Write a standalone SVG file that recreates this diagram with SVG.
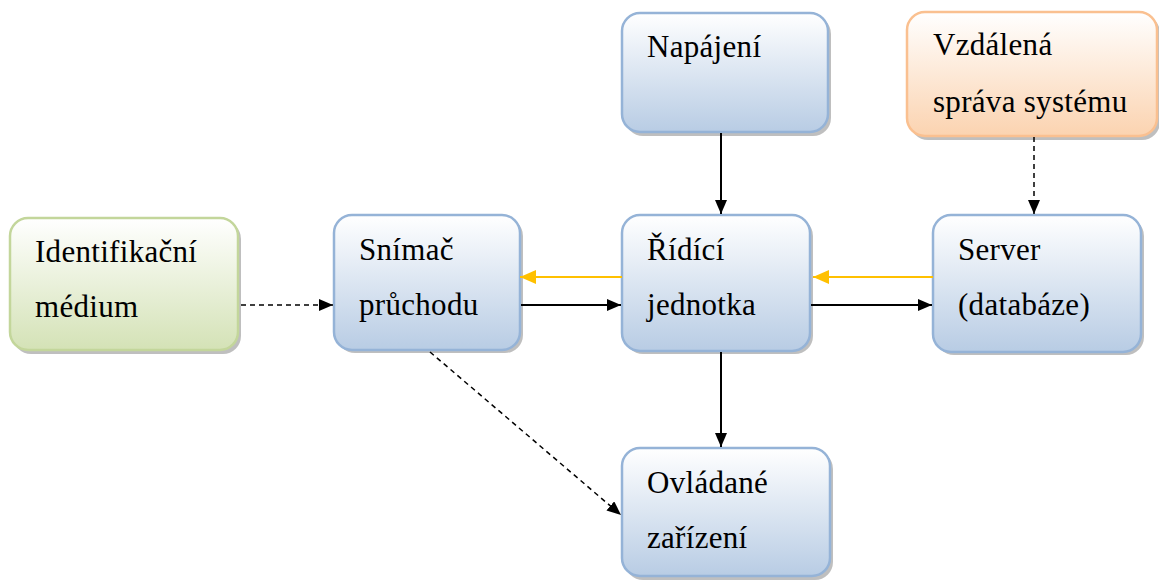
<svg xmlns="http://www.w3.org/2000/svg" width="1159" height="581" viewBox="0 0 1159 581">
<defs>
<linearGradient id="gBlue" x1="0" y1="0" x2="0" y2="1"><stop offset="0" stop-color="#ffffff"/><stop offset="1" stop-color="#b8cce4"/></linearGradient>
<linearGradient id="gGreen" x1="0" y1="0" x2="0" y2="1"><stop offset="0" stop-color="#ffffff"/><stop offset="1" stop-color="#d4e2b6"/></linearGradient>
<linearGradient id="gOrange" x1="0" y1="0" x2="0" y2="1"><stop offset="0" stop-color="#ffffff"/><stop offset="1" stop-color="#fbd3b0"/></linearGradient>
<marker id="ab2" viewBox="0 0 14 12" refX="14" refY="6" markerWidth="14" markerHeight="12" markerUnits="userSpaceOnUse" orient="auto"><path d="M0,0 L14,6 L0,12 z" fill="#000"/></marker>
<marker id="ao" viewBox="0 0 16 14" refX="16" refY="7" markerWidth="16" markerHeight="14" markerUnits="userSpaceOnUse" orient="auto"><path d="M0,0 L16,7 L0,14 z" fill="#ffc000"/></marker>
</defs>
<style>
.sh{fill:#8a8a8a;opacity:0.55}
.nb{fill:url(#gBlue);stroke:#95b3d7;stroke-width:2.5}
.ng{fill:url(#gGreen);stroke:#c3d69b;stroke-width:2.5}
.no{fill:url(#gOrange);stroke:#fac090;stroke-width:2.5}
.c{stroke:#000;stroke-width:2;fill:none}
.d{stroke:#000;stroke-width:1.5;fill:none;stroke-dasharray:5,4}
.o{stroke:#ffc000;stroke-width:2;fill:none}
</style>
<g font-family="Liberation Serif, serif" font-size="31" fill="#000" letter-spacing="0.3">
<g id="n-identifikacni">
<rect class="sh" x="13" y="221" width="228" height="133" rx="18"/>
<rect class="ng" x="10" y="218" width="228" height="132" rx="18"/>
<text x="35" y="262">Identifikační</text>
<text x="35" y="317">médium</text>
</g>
<g id="n-snimac">
<rect class="sh" x="337" y="218" width="186" height="135" rx="18"/>
<rect class="nb" x="334" y="215" width="186" height="135" rx="18"/>
<text x="359" y="260">Snímač</text>
<text x="359" y="315">průchodu</text>
</g>
<g id="n-ridici">
<rect class="sh" x="625" y="218" width="188" height="136" rx="18"/>
<rect class="nb" x="622" y="215" width="188" height="136" rx="18"/>
<text x="647" y="260">Řídící</text>
<text x="647" y="315">jednotka</text>
</g>
<g id="n-napajeni">
<rect class="sh" x="625" y="16" width="206" height="120" rx="18"/>
<rect class="nb" x="622" y="13" width="206" height="119" rx="18"/>
<text x="647" y="57">Napájení</text>
</g>
<g id="n-vzdalena">
<rect class="sh" x="910" y="15" width="250" height="125" rx="18"/>
<rect class="no" x="907" y="12" width="250" height="124" rx="18"/>
<text x="933" y="55">Vzdálená</text>
<text x="933" y="112">správa systému</text>
</g>
<g id="n-server">
<rect class="sh" x="936" y="218" width="208" height="137" rx="18"/>
<rect class="nb" x="933" y="215" width="208" height="137" rx="18"/>
<text x="958" y="260">Server</text>
<text x="958" y="315">(databáze)</text>
</g>
<g id="n-ovladane">
<rect class="sh" x="625" y="451" width="208" height="129" rx="18"/>
<rect class="nb" x="622" y="448" width="208" height="128" rx="18"/>
<text x="647" y="493">Ovládané</text>
<text x="647" y="548">zařízení</text>
</g>
</g>
<g id="connectors">
<line class="d" x1="241" y1="305" x2="333" y2="305" marker-end="url(#ab2)"/>
<line class="c" x1="521" y1="305" x2="621" y2="305" marker-end="url(#ab2)"/>
<line class="o" x1="622" y1="277" x2="520" y2="277" marker-end="url(#ao)"/>
<line class="c" x1="811" y1="305" x2="932" y2="305" marker-end="url(#ab2)"/>
<line class="o" x1="933" y1="277" x2="813" y2="277" marker-end="url(#ao)"/>
<line class="c" x1="721" y1="133" x2="721" y2="214" marker-end="url(#ab2)"/>
<line class="d" x1="1034" y1="137" x2="1034" y2="214" marker-end="url(#ab2)"/>
<line class="c" x1="721" y1="352" x2="721" y2="447" marker-end="url(#ab2)"/>
<line class="d" x1="430" y1="352" x2="621" y2="515" marker-end="url(#ab2)"/>
</g>
</svg>
